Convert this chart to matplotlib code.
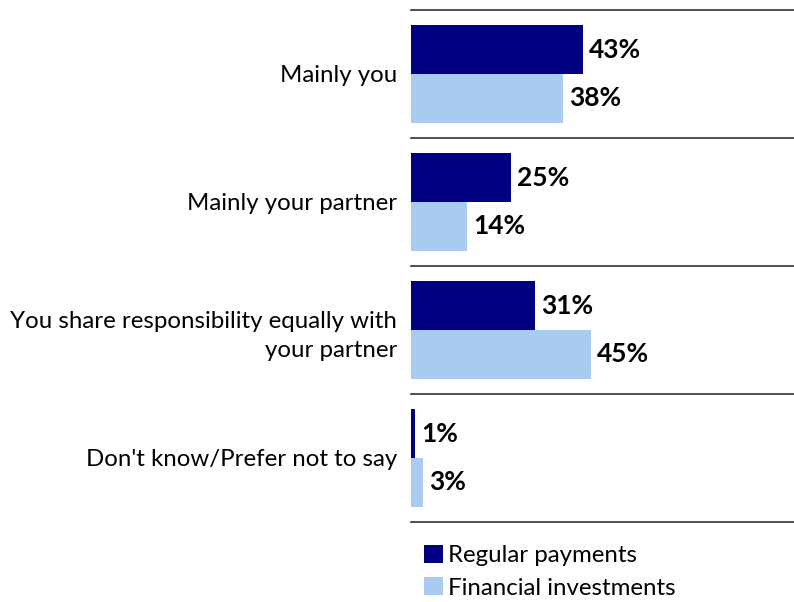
import matplotlib.pyplot as plt
import numpy as np

plt.rcParams['font.family'] = ['Lato', 'DejaVu Sans']

categorias = ['Mainly you', 'Mainly your partner',
              'You share responsibility equally with\nyour partner',
              "Don't know/Prefer not to say"]
pagos_regulares = [43, 25, 31, 1]
inversiones = [38, 14, 45, 3]
series = ['Regular payments', 'Financial investments']
colores = ['#000080', '#A9CBF0']

fig = plt.figure(figsize=(7.94, 6.02), dpi=100)
ax = fig.add_axes([411 / 794, 1 - 522 / 602, 383 / 794, 512 / 602])

y = np.arange(len(categorias))
alto = 0.38
b1 = ax.barh(y - alto / 2, pagos_regulares, height=alto, color=colores[0], label=series[0])
b2 = ax.barh(y + alto / 2, inversiones, height=alto, color=colores[1], label=series[1])

for barras, vals in [(b1, pagos_regulares), (b2, inversiones)]:
    for b, v in zip(barras, vals):
        ax.text(v + 1.5, b.get_y() + b.get_height() / 2, f'{v}%',
                va='center', ha='left', fontsize=19, fontweight='bold', color='black')

# lineas separadoras entre grupos
for s in np.arange(-0.5, len(categorias), 1):
    ax.axhline(s, color='#333333', lw=1.2, clip_on=False)

ax.set_xlim(0, 383 / 4)
ax.set_ylim(len(categorias) - 0.5, -0.5)
ax.set_yticks(y)
ax.set_yticklabels(categorias, fontsize=17.3, ha='right', linespacing=1.45)
ax.tick_params(axis='y', length=0, pad=10)
ax.set_xticks([])
for sp in ax.spines.values():
    sp.set_visible(False)

fig.legend(handles=[b1, b2], labels=series, loc='upper left',
           bbox_to_anchor=(414 / 794, 1 - 535 / 602), frameon=False,
           fontsize=17.3, handlelength=0.8, handleheight=0.8, handletextpad=0.2,
           labelspacing=0.45, borderaxespad=0)

plt.savefig('out.png', dpi=100)
